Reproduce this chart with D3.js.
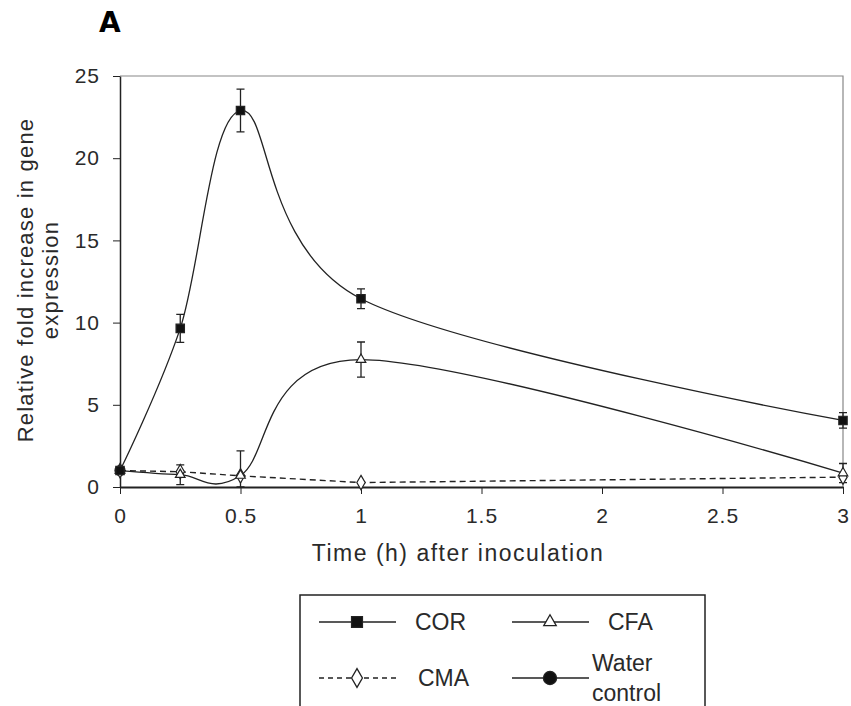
<!DOCTYPE html>
<html lang="en">
<head>
	<meta charset="utf-8"/>
	<title>Relative fold increase</title>
	<script src="https://d3js.org/d3.v7.min.js"></script>
	<style>
		body { margin: 0; background: #fff; }
		svg text { font-family: "Liberation Sans", Arial, sans-serif; fill: #2a2a2a; }
		.axis .domain { stroke: #222; }
		.axis line { stroke: #222; }
	</style>
</head>
<body>
<div id="chart"></div>

<script>
	// data
	var times = [0, 0.25, 0.5, 1, 3];
	var corValues = [1.0, 9.65, 22.9, 11.45, 4.05];
	var corErrors = [0.1, 0.85, 1.3, 0.6, 0.47];
	var cfaValues = [1.0, 0.75, 0.7, 7.75, 0.85];
	var cfaErrors = [0.1, 0.6, 1.5, 1.07, 0.58];
	var cmaValues = [1.0, 0.93, 0.68, 0.27, 0.6];
	var cmaErrors = [0.05, 0.05, 0.05, 0.05, 0.05];
	var waterTimes = [0];
	var waterValues = [1.0];
	var xTicks = [0, 0.5, 1, 1.5, 2, 2.5, 3];
	var yTicks = [0, 5, 10, 15, 20, 25];

	var width = 851,
		height = 706;

	var svg = d3.select("#chart").append("svg")
		.attr("width", width)
		.attr("height", height);

	var x = d3.scaleLinear().domain([0, 3]).range([120, 843]);
	var y = d3.scaleLinear().domain([0, 25]).range([487, 76]);

	// panel letter
	svg.append("text")
		.attr("x", 99)
		.attr("y", 32)
		.attr("font-size", 28)
		.attr("font-weight", "bold")
		.style("font-family", "'DejaVu Sans', sans-serif")
		.style("fill", "#000")
		.text("A");

	// grey frame on top and right
	svg.append("path")
		.attr("d", "M" + x(0) + "," + y(25) + "H" + x(3) + "V" + y(0))
		.attr("fill", "none")
		.attr("stroke", "#888")
		.attr("stroke-width", 1.2);

	svg.append("g")
		.attr("class", "axis")
		.attr("transform", "translate(0," + y(0) + ")")
		.call(d3.axisBottom(x).tickValues(xTicks).tickSize(7).tickSizeOuter(0).tickPadding(14)
			.tickFormat(function(d) { return d; }))
		.call(function(g) { g.select(".domain").attr("stroke-width", 2); })
		.selectAll("text")
			.attr("font-size", 21)
			.attr("letter-spacing", 1);

	svg.append("g")
		.attr("class", "axis")
		.attr("transform", "translate(" + x(0) + ",0)")
		.call(d3.axisLeft(y).tickValues(yTicks).tickSize(7).tickSizeOuter(0).tickPadding(13))
		.call(function(g) { g.select(".domain").attr("stroke-width", 1.5); })
		.selectAll("text")
			.attr("font-size", 21)
			.attr("letter-spacing", 1);

	// axis titles
	svg.append("text")
		.attr("x", 458)
		.attr("y", 561)
		.attr("text-anchor", "middle")
		.attr("font-size", 23)
		.attr("letter-spacing", 1.5)
		.text("Time (h) after inoculation");

	var ylab = svg.append("text")
		.attr("transform", "translate(33,280) rotate(-90)")
		.attr("text-anchor", "middle")
		.attr("font-size", 22)
		.attr("letter-spacing", 1.2);
	ylab.append("tspan").attr("x", 0).attr("y", 0).text("Relative fold increase in gene");
	ylab.append("tspan").attr("x", 0).attr("y", 25).text("expression");

	function rows(vals, errs) {
		return times.map(function(t, i) { return {t: t, v: vals[i], e: errs[i]}; });
	}

	var smooth = d3.line()
		.x(function(d) { return x(d.t); })
		.y(function(d) { return y(d.v); })
		.curve(d3.curveCardinal.tension(0));

	var straight = d3.line()
		.x(function(d) { return x(d.t); })
		.y(function(d) { return y(d.v); });

	var cor = rows(corValues, corErrors),
		cfa = rows(cfaValues, cfaErrors),
		cma = rows(cmaValues, cmaErrors);

	svg.append("path").datum(cma)
		.attr("d", straight)
		.attr("fill", "none")
		.attr("stroke", "#222")
		.attr("stroke-width", 1.4)
		.attr("stroke-dasharray", "6,4");

	svg.append("path").datum(cfa)
		.attr("d", smooth)
		.attr("fill", "none")
		.attr("stroke", "#222")
		.attr("stroke-width", 1.3);

	svg.append("path").datum(cor)
		.attr("d", smooth)
		.attr("fill", "none")
		.attr("stroke", "#222")
		.attr("stroke-width", 1.3);

	// error bars
	function errorBars(data) {
		var g = svg.append("g").attr("stroke", "#222").attr("stroke-width", 1.3);
		g.selectAll("path").data(data).enter().append("path")
			.attr("fill", "none")
			.attr("d", function(d) {
				var cx = x(d.t), y1 = y(d.v + d.e), y0 = y(Math.max(d.v - d.e, 0));
				return "M" + (cx - 4) + "," + y1 + "H" + (cx + 4) + "M" + cx + "," + y1 + "V" + y0
					+ "M" + (cx - 4) + "," + y0 + "H" + (cx + 4);
			});
	}
	errorBars(cma);
	errorBars(cfa);
	errorBars(cor);

	var square = d3.symbol().type(d3.symbolSquare).size(70),
		triangle = d3.symbol().type(d3.symbolTriangle).size(40),
		diamond = d3.symbol().type(d3.symbolDiamond).size(60),
		circle = d3.symbol().type(d3.symbolCircle).size(80);

	function markers(data, sym, fill) {
		svg.append("g").selectAll("path").data(data).enter().append("path")
			.attr("transform", function(d) { return "translate(" + x(d.t) + "," + y(d.v) + ")"; })
			.attr("d", sym)
			.attr("fill", fill)
			.attr("stroke", "#222")
			.attr("stroke-width", 1.2);
	}
	markers(waterTimes.map(function(t, i) { return {t: t, v: waterValues[i]}; }), circle, "#111");
	markers(cma, diamond, "#fff");
	markers(cfa, triangle, "#fff");
	markers(cor, square, "#111");

	// legend
	var lg = svg.append("g");
	lg.append("rect")
		.attr("x", 300)
		.attr("y", 595)
		.attr("width", 405)
		.attr("height", 130)
		.attr("fill", "none")
		.attr("stroke", "#222")
		.attr("stroke-width", 1.5);

	var legendItems = [
		{name: ["COR"], sym: square, fill: "#111", dash: null, lx: 319, ly: 622, tx: 415},
		{name: ["CFA"], sym: triangle, fill: "#fff", dash: null, lx: 512, ly: 622, tx: 608},
		{name: ["CMA"], sym: diamond, fill: "#fff", dash: "5,4", lx: 319, ly: 678, tx: 418},
		{name: ["Water", "control"], sym: circle, fill: "#111", dash: null, lx: 512, ly: 678, tx: 592}
	];

	var item = lg.selectAll("g.item").data(legendItems).enter().append("g").attr("class", "item");
	item.append("line")
		.attr("x1", function(d) { return d.lx; })
		.attr("x2", function(d) { return d.lx + 77; })
		.attr("y1", function(d) { return d.ly; })
		.attr("y2", function(d) { return d.ly; })
		.attr("stroke", "#222")
		.attr("stroke-width", 1.3)
		.attr("stroke-dasharray", function(d) { return d.dash; });
	item.append("path")
		.attr("transform", function(d) { return "translate(" + (d.lx + 38) + "," + d.ly + ") scale(1.3)"; })
		.attr("d", function(d) { return d.sym(); })
		.attr("fill", function(d) { return d.fill; })
		.attr("stroke", "#222")
		.attr("stroke-width", 1);
	item.each(function(d) {
		var t = d3.select(this).append("text")
			.attr("font-size", 23)
			.attr("x", d.tx);
		d.name.forEach(function(s, i) {
			t.append("tspan")
				.attr("x", d.tx)
				.attr("y", d.ly + 8 + (i - (d.name.length - 1) / 2) * 30)
				.text(s);
		});
	});
</script>
</body>
</html>
